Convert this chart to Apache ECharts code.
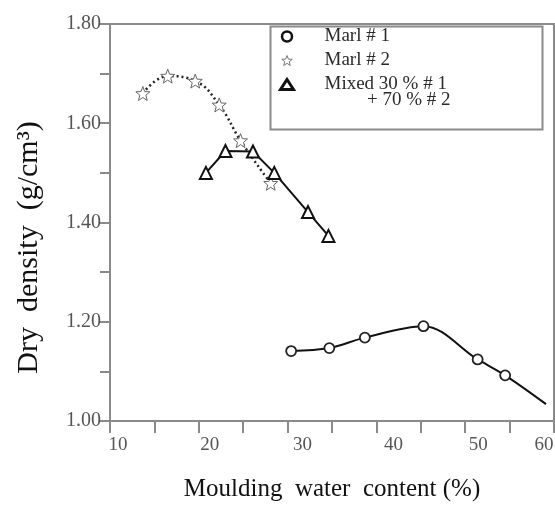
<!DOCTYPE html>
<html>
<head>
<meta charset="utf-8">
<script src="https://cdn.jsdelivr.net/npm/echarts@6/dist/echarts.min.js"></script>
<style>
html,body{margin:0;padding:0;background:#fff;}
#chart{width:555px;height:512px;}
</style>
</head>
<body>
<div id="chart"></div>
<script>
// Data
var marl1X = [30.4, 34.7, 38.7, 45.3, 51.4, 54.5, 59.1];
var marl1Y = [1.141, 1.147, 1.168, 1.191, 1.124, 1.092, 1.034];
var marl1Marked = [true, true, true, true, true, true, false];

var marl2X = [13.7, 16.5, 19.6, 22.3, 24.7, 28.1];
var marl2Y = [1.660, 1.695, 1.685, 1.637, 1.565, 1.479];

var mixedX = [20.8, 23.0, 26.1, 28.5, 32.3, 34.6];
var mixedY = [1.500, 1.544, 1.543, 1.500, 1.421, 1.373];

var seriesNames = ['Marl # 1', 'Marl # 2', 'Mixed 30 % # 1'];
var legendExtraLine = '+ 70 % # 2';

var xTickLabels = ['10', '20', '30', '40', '50', '60'];
var yTickLabels = ['1.00', '1.20', '1.40', '1.60', '1.80'];

var xTitle = 'Moulding  water  content (%)';
var yTitle = 'Dry  density  (g/cm\u00B3)';

function pairs(xs, ys) {
  return xs.map(function (x, i) { return [x, ys[i]]; });
}

var starPath = 'path://M12,1 L14.9,8.6 L23,9 L16.7,14.1 L18.9,22 L12,17.5 L5.1,22 L7.3,14.1 L1,9 L9.1,8.6 Z';

var marl1Data = marl1X.map(function (x, i) {
  var d = { value: [x, marl1Y[i]] };
  if (!marl1Marked[i]) d.symbol = 'none';
  return d;
});

var chart = echarts.init(document.getElementById('chart'), null, { renderer: 'canvas' });
var serif = '"Liberation Serif", "DejaVu Serif", serif';
var labelFont = { fontFamily: serif, fontSize: 19, color: '#555' };
function shiftStyle(dx) {
  var s = Object.assign({}, labelFont);
  s.padding = dx >= 0 ? [0, 0, 0, 2 * dx] : [0, -2 * dx, 0, 0];
  return s;
}

chart.setOption({
  animation: false,
  backgroundColor: '#fff',
  grid: {
    left: 110, top: 24, right: 1, bottom: 91,
    outerBoundsMode: 'none', containLabel: false,
    show: true, borderColor: '#8a8a8a', borderWidth: 2
  },
  xAxis: {
    type: 'value', min: 10, max: 60, interval: 5,
    name: xTitle, nameLocation: 'middle', nameGap: 56,
    nameTextStyle: { fontFamily: serif, fontSize: 25, color: '#111' },
    axisLine: { show: true, lineStyle: { color: '#8a8a8a', width: 2 } },
    axisTick: { show: true, inside: false, length: 12, lineStyle: { color: '#8a8a8a', width: 2 } },
    splitLine: { show: false },
    axisLabel: {
      fontFamily: serif, fontSize: 19, color: '#555', margin: 15,
      showMaxLabel: true, hideOverlap: false,
      rich: {
        a: shiftStyle(8), b: shiftStyle(11), c: shiftStyle(15),
        d: shiftStyle(17), e: shiftStyle(13), f: shiftStyle(-10)
      },
      formatter: function (v) {
        var r = Math.round(v);
        if (Math.abs(v - r) > 1e-6 || r % 10 !== 0) return '';
        var idx = (r - 10) / 10;
        return '{' + 'abcdef'.charAt(idx) + '|' + xTickLabels[idx] + '}';
      }
    }
  },
  yAxis: {
    type: 'value', min: 1.0, max: 1.8, interval: 0.1,
    name: yTitle, nameLocation: 'middle', nameGap: 66, nameRotate: 90,
    nameTextStyle: { fontFamily: serif, fontSize: 30, color: '#111', padding: [0, 0, 0, -50] },
    axisLine: { show: true, lineStyle: { color: '#8a8a8a', width: 2 } },
    axisTick: { show: true, inside: false, length: 10, lineStyle: { color: '#8a8a8a', width: 2 } },
    splitLine: { show: false },
    axisLabel: {
      fontFamily: serif, fontSize: 20, color: '#555', margin: 9,
      padding: [0, 0, 10, 0],
      formatter: function (v) {
        var s = v.toFixed(2);
        return yTickLabels.indexOf(s) >= 0 ? s : '';
      }
    }
  },
  legend: {
    orient: 'vertical', left: 279, top: 27, padding: 0,
    itemWidth: 13, itemHeight: 10, itemGap: 5,
    textStyle: { fontFamily: serif, fontSize: 19, color: '#2a2a2a', lineHeight: 18, padding: [0, 0, 0, 26] },
    data: [
      { name: seriesNames[0], icon: 'circle', itemStyle: { color: '#fff', borderColor: '#111', borderWidth: 2.5 } },
      { name: seriesNames[1], icon: starPath, itemStyle: { color: '#fff', borderColor: '#777', borderWidth: 1 } },
      { name: seriesNames[2], icon: 'triangle', itemStyle: { color: '#fff', borderColor: '#111', borderWidth: 3 } }
    ]
  },
  graphic: [
    {
      type: 'rect', left: 268, top: 24, z: 10, silent: true,
      shape: { width: 272, height: 103 },
      style: { fill: 'none', stroke: '#8a8a8a', lineWidth: 2 }
    },
    {
      type: 'text', left: 367, top: 91, z: 11, silent: true,
      style: { text: legendExtraLine, font: '19px ' + serif, fill: '#2a2a2a' }
    }
  ],
  series: [
    {
      name: seriesNames[0], type: 'line', smooth: 0.35,
      data: marl1Data,
      symbol: 'circle', symbolSize: 10,
      lineStyle: { color: '#111', width: 2 },
      itemStyle: { color: '#fff', borderColor: '#222', borderWidth: 1.8 },
      z: 3
    },
    {
      name: seriesNames[1], type: 'line', smooth: 0.45,
      data: pairs(marl2X, marl2Y),
      symbol: starPath, symbolSize: 14,
      lineStyle: { color: '#222', width: 2.5, type: [2, 3] },
      itemStyle: { color: '#fff', borderColor: '#666', borderWidth: 1 },
      z: 2
    },
    {
      name: seriesNames[2], type: 'line', smooth: false,
      data: pairs(mixedX, mixedY),
      symbol: 'triangle', symbolSize: 12,
      lineStyle: { color: '#111', width: 2 },
      itemStyle: { color: '#fff', borderColor: '#111', borderWidth: 2 },
      z: 4
    }
  ]
});
</script>
</body>
</html>
